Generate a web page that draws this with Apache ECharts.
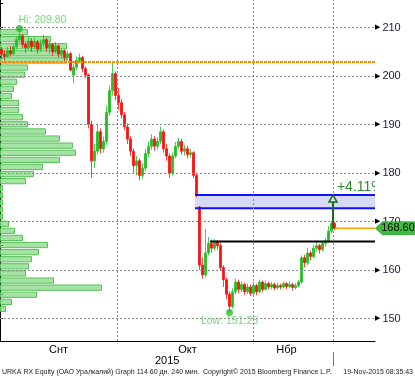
<!DOCTYPE html>
<html><head><meta charset="utf-8">
<script src="https://cdn.jsdelivr.net/npm/echarts@6/dist/echarts.min.js"></script>
<style>html,body{margin:0;padding:0;background:#fff}#c{width:415px;height:380px}</style>
</head><body><div id="c"></div>
<script>
// ---- data ----
const opens  = [205.5,204.5,204.0,205.2,204.6,206.0,207.5,208.3,206.5,205.8,207.2,206.0,207.0,205.5,206.8,207.5,205.8,206.5,205.0,206.2,204.5,205.2,203.8,204.6,200.2,201.8,203.2,203.8,201.5,200.2,190.0,182.5,184.5,188.5,185.0,186.5,192.5,197.0,200.5,196.0,194.5,192.0,189.5,187.0,184.5,181.5,182.5,179.5,181.0,184.0,185.5,187.0,185.5,186.5,188.5,185.0,183.5,180.0,183.5,185.5,186.5,184.5,185.0,183.8,184.2,179.5,173.0,161.0,159.0,163.5,165.5,164.5,165.8,165.0,160.5,158.0,155.0,152.5,155.5,157.5,156.0,157.0,155.5,156.5,155.2,156.8,155.5,157.5,156.0,157.2,156.5,157.0,156.3,156.8,156.5,157.2,156.6,157.0,156.4,156.8,157.5,162.5,161.5,163.5,162.8,164.5,165.0,164.2,165.5,166.0,168.0,169.6];
const closes = [204.5,204.0,205.2,204.6,206.0,207.5,208.3,206.5,205.8,207.2,206.0,207.0,205.5,206.8,207.5,205.8,206.5,205.0,206.2,204.5,205.2,203.8,204.6,201.2,201.8,203.2,203.8,201.5,200.2,190.0,182.5,184.5,188.5,185.0,186.5,192.5,197.0,200.5,196.0,194.5,192.0,189.5,187.0,184.5,181.5,182.5,179.5,181.0,184.0,185.5,187.0,185.5,186.5,188.5,185.0,183.5,180.0,183.5,185.5,186.5,184.5,185.0,183.8,184.2,179.5,175.5,161.0,159.0,163.5,165.5,164.5,165.8,165.0,160.5,158.0,155.0,152.5,155.5,157.5,156.0,157.0,155.5,156.5,155.2,156.8,155.5,157.5,156.0,157.2,156.5,157.0,156.3,156.8,156.5,157.2,156.6,157.0,156.4,156.8,157.5,162.5,161.5,163.5,162.8,164.5,165.0,164.2,165.5,166.0,168.0,169.6,168.6];
const lows   = [203.5,203.2,203.8,204.0,204.2,205.5,206.8,205.8,204.8,205.2,205.0,205.5,204.6,205.0,206.0,205.0,204.5,204.2,204.6,203.8,203.6,203.0,203.2,201.0,198.5,201.2,202.6,200.8,199.5,189.2,179.0,181.0,183.8,184.0,184.2,185.8,191.8,196.0,195.0,193.0,191.2,188.8,186.0,183.5,180.0,179.5,178.5,178.8,180.4,183.2,184.8,184.6,184.8,186.0,184.2,182.5,179.0,179.5,183.0,185.0,183.8,183.6,183.0,183.2,179.0,175.0,160.0,158.2,158.5,163.0,163.6,164.0,164.2,159.8,156.5,154.0,151.25,152.0,155.0,155.2,155.5,154.8,155.0,154.6,154.8,154.8,155.2,155.4,155.8,156.0,156.0,155.8,156.0,156.0,156.2,156.0,156.2,155.8,156.0,156.4,157.2,160.5,161.0,162.0,162.4,163.8,163.4,163.8,164.8,165.6,167.5,168.2];
const highs  = [206.0,205.3,206.0,206.2,206.8,208.2,209.8,208.6,207.0,208.0,207.8,207.9,207.4,207.5,208.5,207.9,207.2,206.8,207.0,206.5,205.8,205.5,205.2,205.0,202.4,204.0,204.6,204.2,202.0,200.5,190.8,186.0,190.0,189.2,187.5,193.8,198.0,202.8,201.0,197.5,195.2,192.6,190.2,187.6,185.0,183.5,183.0,182.0,185.0,186.5,188.0,187.6,187.4,189.6,189.0,186.0,184.0,184.2,186.4,187.2,187.0,185.8,185.6,185.0,184.5,180.0,173.2,162.6,168.5,166.8,166.3,166.4,166.2,165.6,161.0,158.5,155.6,156.2,158.2,158.0,157.6,157.4,157.2,157.0,157.6,157.2,158.0,157.8,157.8,157.6,157.5,157.4,157.4,157.2,157.6,157.5,157.6,157.3,157.3,158.0,163.0,163.2,164.6,164.0,165.2,165.8,165.4,166.0,166.6,169.0,170.2,170.0];
// volume-at-price profile, 40 bins from 209.80 (top) down to 151.25
const volProfile = [28,51,67,65,67,28,25,17,14,12,19,19,23,28,46,60,73,76,60,43,34,26,3,3,3,3,3,9,15,23,48,39,32,29,26,54,102,37,12,6];
const monthLabels = ['Снт','Окт','Нбр'];
const monthLabelSlots = [19, 62, 95];
const monthGridSlots = [39, 84.33, 111];
const yGridValues = [150,160,170,180,190,200,210];
const hiPoint = [6, 209.80];
const lowPoint = [76, 151.25];
const lastPrice = 168.60;
const dottedLevel = 202.9;
const bandTop = 175.45, bandBottom = 172.75, bandStartSlot = 65;
const blackLevel = 165.9, blackStartSlot = 70;
const lastStartSlot = 111.7;
const arrowSlot = 111;
const pctText = '+4.11%';
const pctPos = [112.3, 177.1];

// ---- chart ----
const SLOTS = 125;
const Y_MIN = 145.36, Y_MAX = 215.67;
const categories = Array.from({length: SLOTS}, (_, i) => String(i));
const labelMap = {};
monthLabelSlots.forEach((s, k) => { labelMap[s] = monthLabels[k]; });
const candleData = opens.map((o, i) => [o, closes[i], lows[i], highs[i]]);
const binLabels = volProfile.map((_, i) => 'b' + i);
const FONT = 'Liberation Sans';
const gridDash = {color: '#8a8a8a', width: 1, type: [2, 2]};

const chart = echarts.init(document.getElementById('c'));
chart.setOption({
  animation: false,
  backgroundColor: '#fff',
  grid: [
    {left: 0, right: 40, top: 0, bottom: 39, outerBoundsMode: 'none', containLabel: false},
    {left: 0, right: 40, top: 28.5, bottom: 67.5, outerBoundsMode: 'none', containLabel: false}
  ],
  xAxis: [
    {type: 'category', gridIndex: 0, data: categories,
     axisLine: {lineStyle: {color: '#000', width: 1}}, axisTick: {show: false},
     splitLine: {show: false},
     axisLabel: {interval: 0, formatter: (v, i) => labelMap[i] || '', color: '#000', fontSize: 11, margin: 3, fontFamily: FONT}},
    {type: 'value', gridIndex: 0, min: 0, max: SLOTS, show: false},
    {type: 'value', gridIndex: 1, min: 0, max: 375, show: false}
  ],
  yAxis: [
    {type: 'value', gridIndex: 0, position: 'right', min: Y_MIN, max: Y_MAX, splitNumber: 14, scale: true,
     axisLine: {show: true, lineStyle: {color: '#000', width: 1}},
     axisTick: {show: true, length: 3, lineStyle: {color: '#000'}},
     splitLine: {show: false},
     axisLabel: {margin: 0, showMinLabel: false, showMaxLabel: false,
       formatter: v => (Math.abs(v % 10) < 1e-6 ? '{t|▶}{v|' + Math.round(v) + '}' : ''),
       rich: {t: {fontSize: 7, color: '#000', fontFamily: 'DejaVu Sans', padding: [0, 2, 0, 0]},
              v: {fontSize: 11, color: '#1b1b3b', fontFamily: FONT}}}},
    {type: 'category', gridIndex: 1, data: binLabels, inverse: true, show: false}
  ],
  series: [
    {type: 'bar', xAxisIndex: 2, yAxisIndex: 1, data: volProfile, barCategoryGap: '12%', z: 1, silent: true,
     itemStyle: {color: 'rgba(125,215,125,0.7)', borderColor: '#58c058', borderWidth: 1}},
    {type: 'line', xAxisIndex: 1, yAxisIndex: 0, data: [], z: 2, silent: true,
     markLine: {symbol: 'none', silent: true, label: {show: false}, lineStyle: gridDash,
       data: yGridValues.map(v => ({yAxis: v})).concat(monthGridSlots.map(s => ({xAxis: s})))}},
    {type: 'candlestick', xAxisIndex: 0, yAxisIndex: 0, data: candleData, barWidth: 2, z: 3,
     itemStyle: {color: '#1fc01f', color0: '#ff1010', borderColor: '#1fc01f', borderColor0: '#ff1010', borderWidth: 0.8}},
    {type: 'line', xAxisIndex: 1, yAxisIndex: 0, data: [[0, dottedLevel], [SLOTS, dottedLevel]], symbol: 'none', z: 4,
     lineStyle: {color: '#ff8c00', width: 2, type: [3, 1]}},
    {type: 'line', xAxisIndex: 1, yAxisIndex: 0, data: [[bandStartSlot, bandTop], [SLOTS, bandTop]], symbol: 'none', z: 4,
     lineStyle: {color: '#1010ff', width: 2},
     markArea: {silent: true, itemStyle: {color: 'rgba(200,204,245,0.75)'},
       data: [[{coord: [bandStartSlot, bandTop]}, {coord: [SLOTS, bandBottom]}]]}},
    {type: 'line', xAxisIndex: 1, yAxisIndex: 0, data: [[bandStartSlot, bandBottom], [SLOTS, bandBottom]], symbol: 'none', z: 4,
     lineStyle: {color: '#1010ff', width: 2}},
    {type: 'line', xAxisIndex: 1, yAxisIndex: 0, data: [[blackStartSlot, blackLevel], [SLOTS, blackLevel]], symbol: 'none', z: 4,
     lineStyle: {color: '#000', width: 2}},
    {type: 'line', xAxisIndex: 1, yAxisIndex: 0, data: [[lastStartSlot, lastPrice], [SLOTS, lastPrice]], symbol: 'none', z: 4,
     lineStyle: {color: '#ffa000', width: 1.5},
     markPoint: {silent: true, data: [{coord: [SLOTS, lastPrice],
       symbol: 'path://M0,7L7,0L40,0L40,14L7,14Z', symbolSize: [39, 13], symbolOffset: [20, 0], symbolKeepAspect: false,
       itemStyle: {color: '#3cbd3c', borderColor: '#1f7f1f', borderWidth: 0.5},
       label: {show: true, position: 'inside', formatter: lastPrice.toFixed(2), color: '#000', fontSize: 11, fontFamily: FONT, offset: [3, 0]}}]}},
    {type: 'custom', xAxisIndex: 1, yAxisIndex: 0, data: [[arrowSlot, lastPrice, bandTop]], z: 6, silent: true,
     renderItem: (p, api) => {
       const a = api.coord([api.value(0), api.value(1)]);
       const b = api.coord([api.value(0), api.value(2)]);
       return {type: 'group', children: [
         {type: 'line', shape: {x1: a[0], y1: a[1], x2: b[0], y2: b[1] + 7}, style: {stroke: '#1a6e1a', lineWidth: 2}},
         {type: 'polygon', shape: {points: [[b[0], b[1]], [b[0] - 4, b[1] + 7], [b[0] + 4, b[1] + 7]]},
          style: {stroke: '#1a6e1a', fill: 'rgba(255,255,255,0.5)', lineWidth: 1.5}}
       ]};
     }},
    {type: 'custom', xAxisIndex: 1, yAxisIndex: 0, data: [pctPos], z: 6, silent: true, clip: true,
     renderItem: (p, api) => {
       const c = api.coord([api.value(0), api.value(1)]);
       return {type: 'text', x: c[0], y: c[1],
         style: {text: pctText, fill: '#2e8b2e', fontSize: 14, fontFamily: FONT, align: 'left', verticalAlign: 'middle'}};
     }},
    {type: 'scatter', xAxisIndex: 0, yAxisIndex: 0, data: [hiPoint], symbolSize: 7, z: 7,
     itemStyle: {color: '#2db82d'},
     label: {show: true, position: [2.5, -4.5], align: 'left', verticalAlign: 'middle',
       formatter: 'Hi: ' + hiPoint[1].toFixed(2), color: '#55cc55', fontSize: 10.5, fontFamily: FONT}},
    {type: 'scatter', xAxisIndex: 0, yAxisIndex: 0, data: [lowPoint], symbolSize: 7, z: 7,
     itemStyle: {color: '#2db82d'},
     label: {show: true, position: 'bottom', distance: 0,
       formatter: 'Low: ' + lowPoint[1].toFixed(2), color: '#55cc55', fontSize: 10.5, fontFamily: FONT}}
  ],
  graphic: [
    {type: 'text', left: 155, top: 355, style: {text: '2015', fill: '#000', fontSize: 11, fontFamily: FONT}},
    {type: 'line', shape: {x1: 333.5, y1: 352, x2: 333.5, y2: 366}, style: {stroke: '#777', lineWidth: 1}},
    {type: 'text', left: 2, top: 369, style: {text: 'URKA RX Equity (ОАО Уралкалий) Graph 114 60 дн. 240 мин.', fill: '#222', fontSize: 7, fontFamily: FONT}},
    {type: 'text', left: 203, top: 369, style: {text: 'Copyright© 2015 Bloomberg Finance L.P.', fill: '#222', fontSize: 7, fontFamily: FONT}},
    {type: 'text', right: 2, top: 369, style: {text: '19-Nov-2015 08:35:43', fill: '#222', fontSize: 7, fontFamily: FONT}}
  ]
});
</script>
</body></html>
